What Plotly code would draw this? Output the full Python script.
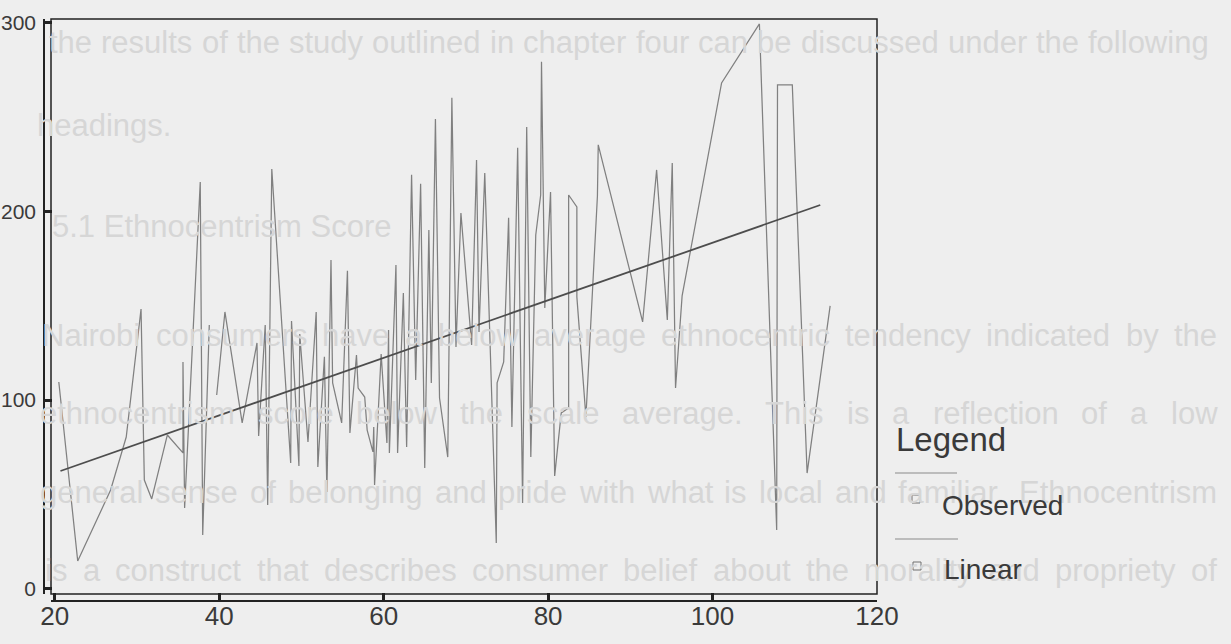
import plotly.graph_objects as go

# ---------------- data ----------------
obs_x = [20.5, 22.8, 26.8, 28.7, 30.5, 30.9, 31.8, 33.7, 35.6, 35.6, 35.8, 37.7, 38.0, 38.8, None,
         39.7, 40.7, 42.8, 44.6, 44.8, 45.6, 45.9, 46.4, 48.7, 48.8, 49.7, 49.8, 50.8, 51.8, 52.0,
         52.8, 53.1, 53.6, 53.8, 54.9, 55.6, 55.9, 56.7, 56.9, 57.7, 58.0, 58.7, 58.8, 58.9, 59.7,
         60.4, 60.6, 60.7, 61.5, 61.7, 62.4, 62.8, 63.4, 63.9, 64.5, 65.0, 65.5, 65.8, 66.3, 66.8,
         67.8, 68.3, 68.8, 69.4, 70.7, 71.3, 71.6, 72.3, 73.7, 73.8, 74.6, 75.2, 75.6, 76.3, 76.9,
         77.4, 77.9, 78.5, 79.1, 79.2, 79.6, 80.3, 80.8, 81.6, 82.5, 82.5, 83.5, 83.5, 84.6, 86.0,
         86.1, 91.5, 93.2, 94.5, 95.1, 95.5, 96.3, 101.1, 105.7, 107.8, 107.9, 109.7, 111.5, 114.3]
obs_y = [109.6, 14.7, 52.3, 80.4, 148.3, 57.6, 47.6, 81.5, 72.0, 120.2, 42.8, 215.6, 28.5, 139.8, None,
         102.7, 146.7, 87.9, 130.3, 81.0, 139.8, 44.4, 222.5, 66.6, 141.9, 65.1, 135.0, 77.8, 146.7, 64.5,
         122.9, 51.3, 174.3, 109.1, 87.9, 168.5, 82.6, 123.9, 106.4, 101.6, 84.1, 72.5, 85.7, 55.0, 124.4,
         77.3, 137.2, 72.0, 171.6, 72.0, 156.8, 75.1, 219.4, 110.7, 214.6, 64.0, 190.2, 109.1, 249.0, 101.1,
         69.8, 260.2, 128.2, 199.2, 129.2, 227.3, 136.1, 220.4, 24.2, 109.1, 120.2, 196.6, 85.7, 233.7, 45.4,
         244.8, 69.8, 187.5, 208.7, 279.3, 148.8, 210.3, 59.8, 93.2, 95.8, 208.7, 202.4, 154.7, 91.0, 208.2,
         235.3, 141.4, 222.0, 142.5, 225.7, 106.4, 155.2, 268.1, 299.4, 31.1, 267.1, 267.1, 61.3, 149.9]
assert len(obs_x) == len(obs_y)

lin_x = [20.7, 113.1]
lin_y = [62.4, 203.4]

x_ticks = [20, 40, 60, 80, 100, 120]
y_ticks = [0, 100, 200, 300]

legend_title = "Legend"
legend_items = ["Observed", "Linear"]

# faint show-through text of the scanned page
page_text = [
    "the results of the study outlined in chapter four can be discussed under the following",
    "headings.",
    "5.1 Ethnocentrism Score",
    "Nairobi consumers have a below average ethnocentric tendency indicated by the",
    "ethnocentrism score below the scale average. This is a reflection of a low",
    "general sense of belonging and pride with what is local and familiar. Ethnocentrism",
    "is a construct that describes consumer belief about the morality and propriety of",
]
# (left px, right px or None, centre y px) for each page line
page_pos = [(47, 1207, 43), (35, None, 125), (50, None, 227), (40, 1215, 335),
            (38, 1215, 413), (38, 1215, 492), (43, 1215, 570)]

# ---------------- layout helpers (pixel geometry) ----------------
W, H = 1231, 644
L, R, T, B = 44, 877, 19, 601          # paper area in pixels
PW, PH = R - L, B - T

def px(x):
    return (x - L) / PW

def py(y):
    return (B - y) / PH

# approximate Arial / Liberation Sans advance widths (per 1000 em)
_AW = {' ': 278, '.': 278, ',': 278}
_AW.update({c: 556 for c in "abdeghnopqu0123456789"})
_AW.update({'c': 500, 'k': 500, 's': 500, 'v': 500, 'x': 500, 'y': 500, 'z': 500,
            'f': 278, 't': 278, 'i': 222, 'j': 222, 'l': 222, 'm': 833, 'r': 333, 'w': 722,
            'N': 722, 'E': 667, 'S': 667, 'T': 611})

def text_w(s, size):
    return sum(_AW.get(c, 600) for c in s) * size / 1000.0

BG = "#eeeeee"
FONT = "Liberation Sans, Arial, sans-serif"
INK = "#3a3a3a"
AX = "#222222"
GHOST = "#d6d6d6"

fig = go.Figure()
fig.add_trace(go.Scatter(x=obs_x, y=obs_y, mode="lines", name="Observed",
                         line=dict(color="#808080", width=1.25), connectgaps=False))
fig.add_trace(go.Scatter(x=lin_x, y=lin_y, mode="lines", name="Linear",
                         line=dict(color="#4d4d4d", width=1.8)))

fig.update_layout(
    width=W, height=H,
    margin=dict(l=L, r=W - R, t=T, b=H - B, autoexpand=False),
    paper_bgcolor=BG, plot_bgcolor=BG,
    showlegend=False,
    font=dict(family=FONT, color=INK),
    xaxis=dict(domain=[(51 - L) / PW, 1], range=[19.55, 120], anchor="free", position=0,
               showline=True, linecolor=AX, linewidth=1.5,
               ticks="inside", ticklen=7, tickwidth=3, tickcolor=AX,
               tickvals=x_ticks, ticktext=[str(v) for v in x_ticks],
               tickfont=dict(size=26, color=INK, family=FONT),
               showgrid=False, zeroline=False, ticklabelstandoff=-8),
    yaxis=dict(domain=[(B - 594) / PH, 1], range=[-2.8, 302], anchor="free", position=0,
               showline=True, linecolor=AX, linewidth=1.5,
               ticks="inside", ticklen=7, tickwidth=3, tickcolor=AX,
               tickvals=y_ticks, ticktext=[str(v) for v in y_ticks],
               tickfont=dict(size=21, color=INK, family=FONT),
               showgrid=False, zeroline=False, ticklabelstandoff=3),
)

shapes = [
    dict(type="rect", xref="x domain", yref="y domain", x0=0, x1=1, y0=0, y1=1,
         line=dict(color=AX, width=1.5), layer="above"),
    # legend line samples and markers
    dict(type="line", xref="paper", yref="paper", x0=px(895), x1=px(957), y0=py(473), y1=py(473),
         line=dict(color="#8a8a8a", width=1)),
    dict(type="rect", xref="paper", yref="paper", x0=px(912), x1=px(920), y0=py(503), y1=py(495),
         line=dict(color="#707070", width=1)),
    dict(type="line", xref="paper", yref="paper", x0=px(895), x1=px(958), y0=py(539), y1=py(539),
         line=dict(color="#8a8a8a", width=1)),
    dict(type="rect", xref="paper", yref="paper", x0=px(913), x1=px(921), y0=py(570), y1=py(562),
         line=dict(color="#707070", width=1)),
]
fig.update_layout(shapes=shapes)

ann = []
# background page text (very faint), justified like the printed page
GS = 31
for (x0, x1, y0), txt in zip(page_pos, page_text):
    if x1 is None:
        ann.append(dict(xref="paper", yref="paper", x=px(x0), y=py(y0), xanchor="left",
                        yanchor="middle", text=txt, showarrow=False,
                        font=dict(size=GS, color=GHOST, family=FONT)))
        continue
    words = txt.split(" ")
    widths = [text_w(w, GS) for w in words]
    gap = (x1 - x0 - sum(widths)) / (len(words) - 1)
    cx = x0
    for w, ww in zip(words, widths):
        ann.append(dict(xref="paper", yref="paper", x=px(cx), y=py(y0), xanchor="left",
                        yanchor="middle", text=w, showarrow=False,
                        font=dict(size=GS, color=GHOST, family=FONT)))
        cx += ww + gap

ann.append(dict(xref="paper", yref="paper", x=px(894), y=py(439), xanchor="left", yanchor="middle",
                text=legend_title, showarrow=False, font=dict(size=33, color=INK, family=FONT)))
ann.append(dict(xref="paper", yref="paper", x=px(940), y=py(505), xanchor="left", yanchor="middle",
                text=legend_items[0], showarrow=False, font=dict(size=28, color=INK, family=FONT)))
ann.append(dict(xref="paper", yref="paper", x=px(942), y=py(569), xanchor="left", yanchor="middle",
                text=legend_items[1], showarrow=False, font=dict(size=28, color=INK, family=FONT)))
fig.update_layout(annotations=ann)

fig.write_html("out.html", config={"displayModeBar": False})

# remove the browser's default 8px page margin so the figure sits at (0, 0)
with open("out.html", "r", encoding="utf-8") as f:
    html = f.read()
html = html.replace("<head>", "<head><style>html,body{margin:0;padding:0;overflow:hidden;}</style>", 1)
with open("out.html", "w", encoding="utf-8") as f:
    f.write(html)
